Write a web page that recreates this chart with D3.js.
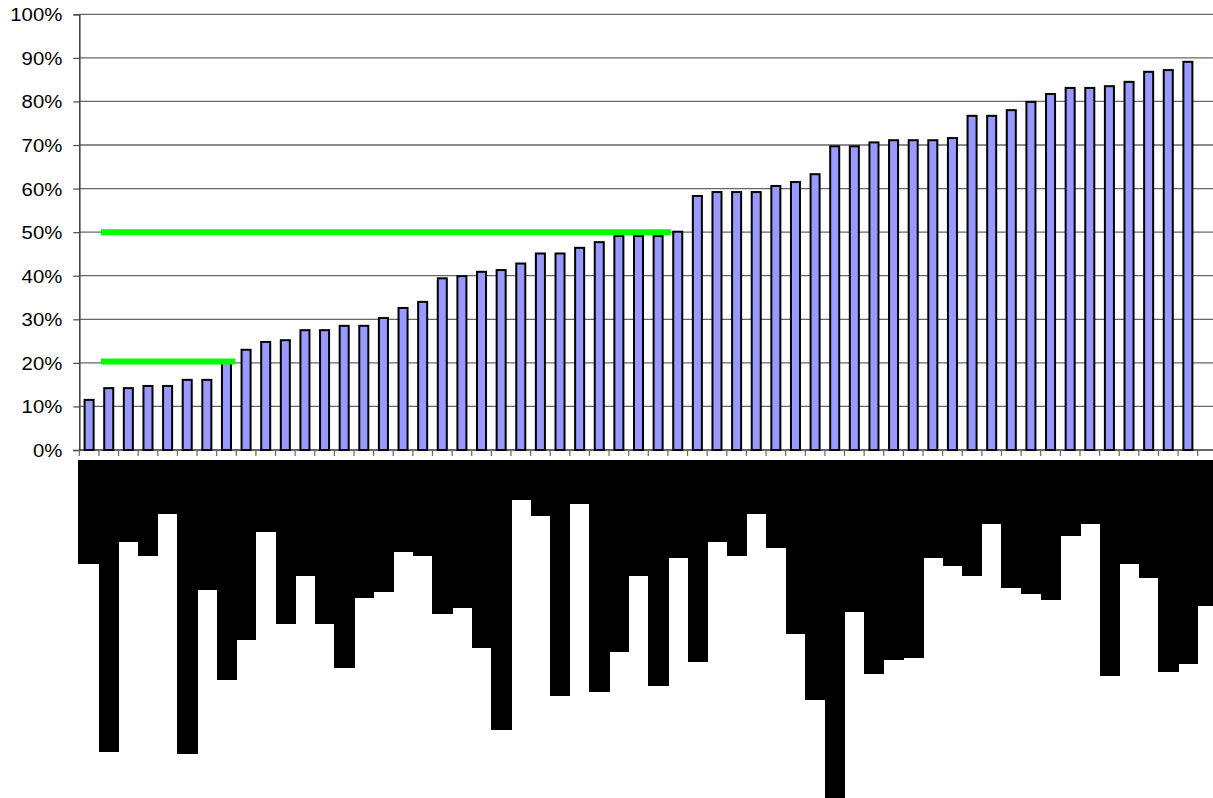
<!DOCTYPE html>
<html><head><meta charset="utf-8">
<script src="https://cdn.jsdelivr.net/npm/d3@7"></script>
<style>body{margin:0;background:#fff}svg{display:block}</style>
</head><body>
<svg id="chart" width="1213" height="798"></svg>
<script>
// ---- data ----
const categories = d3.range(1, 58);           // 57 unlabeled categories
const barValues = [
  11.5, 14.2, 14.2, 14.7, 14.7, 16.1, 16.1, 20.0, 23.0, 24.8,
  25.2, 27.5, 27.5, 28.5, 28.5, 30.3, 32.6, 34.0, 39.4, 39.9,
  40.9, 41.3, 42.8, 45.1, 45.1, 46.4, 47.7, 49.1, 49.1, 49.1,
  50.1, 58.3, 59.2, 59.2, 59.2, 60.6, 61.5, 63.3, 69.7, 69.7,
  70.6, 71.1, 71.1, 71.1, 71.6, 76.7, 76.7, 78.0, 79.9, 81.7,
  83.1, 83.1, 83.5, 84.5, 86.8, 87.2, 89.1
];
const yTicks = [0, 10, 20, 30, 40, 50, 60, 70, 80, 90, 100];
const yTickLabels = yTicks.map(v => v + "%");
// green reference lines: level (%) and span in category units
const refLevels = [20.3, 50];
const refFrom = [1.1, 1.1];
const refTo = [7.95, 30.15];
// black lower band: depth per column (0-100 of the band height)
const stripDepth = [
  30.8, 86.4, 24.3, 28.4, 16.0, 87.0, 38.5, 65.1, 53.3, 21.3,
  48.5, 34.3, 48.5, 61.5, 40.8, 39.1, 27.2, 28.4, 45.6, 43.8,
  55.6, 79.9, 11.8, 16.6, 69.8, 13.0, 68.6, 56.8, 34.3, 66.9,
  29.0, 59.8, 24.3, 28.4, 16.0, 26.0, 51.5, 71.0, 100, 45.0,
  63.3, 59.2, 58.6, 29.0, 31.4, 34.3, 18.9, 37.9, 39.6, 41.4,
  22.5, 18.9, 63.9, 30.8, 34.9, 62.7, 60.4, 43.2
];

// ---- layout ----
const W = 1213, H = 798;
const plotLeft = 79.3, plotRight = 1213, catRight = 1197.7;
const plotTop = 14.3, plotBottom = 450;
const stripTop = 460, stripBottom = 798;

const svg = d3.select("#chart");
const x = d3.scaleLinear().domain([0, categories.length]).range([plotLeft, catRight]);
const y = d3.scaleLinear().domain([0, 100]).range([plotBottom, plotTop]);
const d = d3.scaleLinear().domain([0, 100]).range([stripTop, stripBottom]);
const step = x(1) - x(0);
const barW = step * 0.46;

// gridlines
svg.append("g").selectAll("line").data(yTicks.filter(v => v > 0)).join("line")
  .attr("x1", plotLeft).attr("x2", plotRight)
  .attr("y1", v => y(v)).attr("y2", v => y(v))
  .attr("stroke", "#666").attr("stroke-width", 1.3);

// y axis with ticks and labels
const yAxis = d3.axisLeft(y).tickValues(yTicks).tickSize(6).tickFormat((v, i) => yTickLabels[i]);
const yg = svg.append("g").attr("transform", `translate(${plotLeft},0)`).call(yAxis);
yg.select(".domain").attr("stroke", "#444").attr("stroke-width", 1.6);
yg.selectAll(".tick line").attr("stroke", "#555").attr("stroke-width", 1.3);
yg.selectAll(".tick text").attr("x", 0).attr("dx", 0)
  .attr("font-family", "'Liberation Sans', Arial, sans-serif").attr("font-size", 18.5)
  .attr("fill", "#000").attr("text-anchor", "end").attr("dy", "0.35em")
  .attr("transform", "translate(-17,0) scale(1.1,1)");

// x axis baseline + ticks at category boundaries
svg.append("line").attr("x1", plotLeft).attr("x2", plotRight)
  .attr("y1", plotBottom).attr("y2", plotBottom)
  .attr("stroke", "#333").attr("stroke-width", 1.6);
svg.append("g").selectAll("line").data(d3.range(categories.length + 1)).join("line")
  .attr("x1", i => x(i)).attr("x2", i => x(i))
  .attr("y1", plotBottom).attr("y2", plotBottom + 6)
  .attr("stroke", "#666").attr("stroke-width", 1.2);

// bars
svg.append("g").selectAll("rect").data(barValues).join("rect")
  .attr("x", (v, i) => x(i + 0.5) - barW / 2)
  .attr("width", barW)
  .attr("y", v => y(v))
  .attr("height", v => y(0) - y(v))
  .attr("fill", "#9999ff").attr("stroke", "#000").attr("stroke-width", 2);

// green reference lines
svg.append("g").selectAll("line").data(refLevels).join("line")
  .attr("x1", (v, i) => x(refFrom[i])).attr("x2", (v, i) => x(refTo[i]))
  .attr("y1", v => y(v)).attr("y2", v => y(v))
  .attr("stroke", "#00ff00").attr("stroke-width", 6);

// black lower band
svg.append("g").attr("shape-rendering", "crispEdges").selectAll("rect").data(stripDepth).join("rect")
  .attr("x", (v, i) => i === 0 ? x(0) - 1.3 : x(i))
  .attr("width", (v, i) => Math.min(x(i + 1), W) - (i === 0 ? x(0) - 1.3 : x(i)) + 0.6)
  .attr("y", stripTop)
  .attr("height", v => d(v) - stripTop)
  .attr("fill", "#000");
</script>
</body></html>
